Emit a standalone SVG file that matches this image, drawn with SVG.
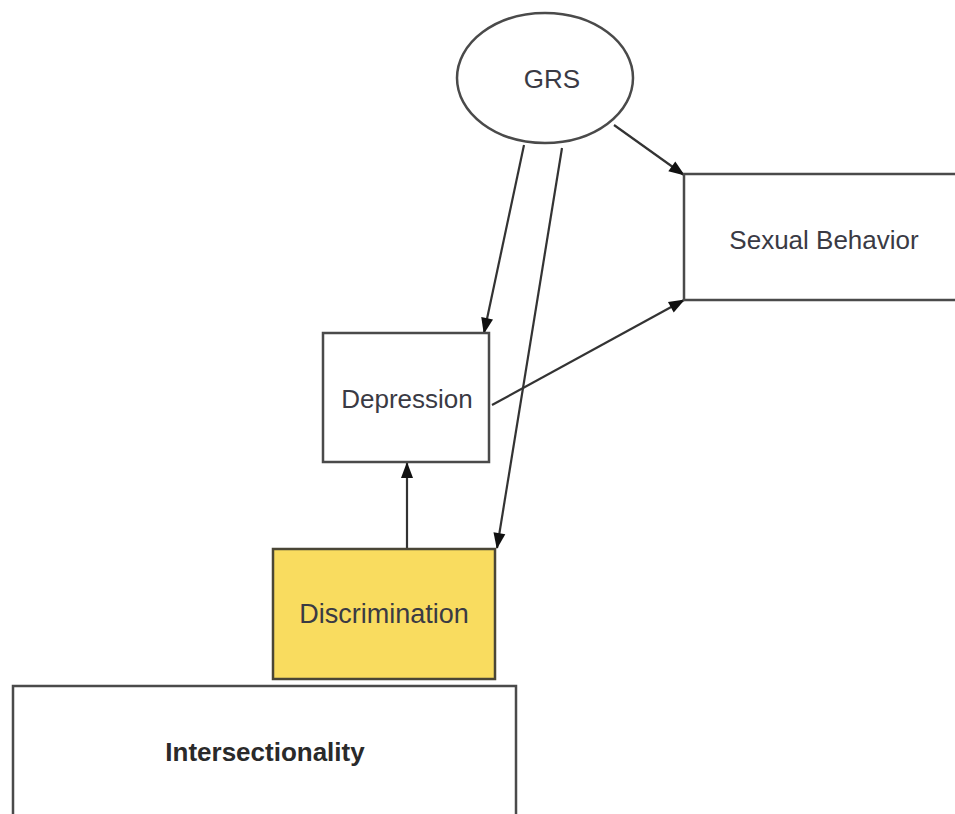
<svg xmlns="http://www.w3.org/2000/svg" width="955" height="814" viewBox="0 0 955 814">
  <style>
    .box { fill: #ffffff; stroke: #4a4a4a; stroke-width: 2.5; }
    .hl { fill: #f9dc5f; stroke: #4a4636; stroke-width: 2.5; }
    .lbl { font-family: "Liberation Sans", Arial, sans-serif; font-size: 26px; fill: #3a3a44; text-anchor: middle; dominant-baseline: central; }
    .bold { font-weight: bold; fill: #2a2a2a; }
    .edge { fill: none; stroke: #333333; stroke-width: 2.2; marker-end: url(#arrow); }
  </style>
  <defs>
    <marker id="arrow" viewBox="0 0 16 12" refX="15" refY="6" markerWidth="16" markerHeight="12" markerUnits="userSpaceOnUse" orient="auto" overflow="visible">
      <path d="M0,0 L16,6 L0,12 z" fill="#111111"/>
    </marker>
  </defs>
  <rect width="955" height="814" fill="#ffffff"/>

  <g id="connectors">
    <line class="edge" x1="614" y1="125" x2="684" y2="175"/>
    <line class="edge" x1="524" y1="145" x2="484" y2="333"/>
    <line class="edge" x1="562" y1="148" x2="497" y2="548"/>
    <line class="edge" x1="407" y1="548" x2="407" y2="463"/>
    <line class="edge" x1="492" y1="405" x2="684" y2="300"/>
  </g>

  <g id="grs">
    <ellipse class="box" cx="545" cy="78" rx="88" ry="65"/>
    <text class="lbl" x="552" y="79">GRS</text>
  </g>

  <g id="sexual-behavior">
    <rect class="box" x="684" y="174" width="290" height="126"/>
    <text class="lbl" x="824" y="240">Sexual Behavior</text>
  </g>

  <g id="depression">
    <rect class="box" x="323" y="333" width="166" height="129"/>
    <text class="lbl" x="407" y="399">Depression</text>
  </g>

  <g id="discrimination">
    <rect class="hl" x="273" y="549" width="222" height="130"/>
    <text class="lbl" x="384" y="614" fill="#3a3424" style="font-size:27px">Discrimination</text>
  </g>

  <g id="intersectionality">
    <rect class="box" x="13" y="686" width="503" height="140"/>
    <text class="lbl bold" x="265" y="752">Intersectionality</text>
  </g>
</svg>
